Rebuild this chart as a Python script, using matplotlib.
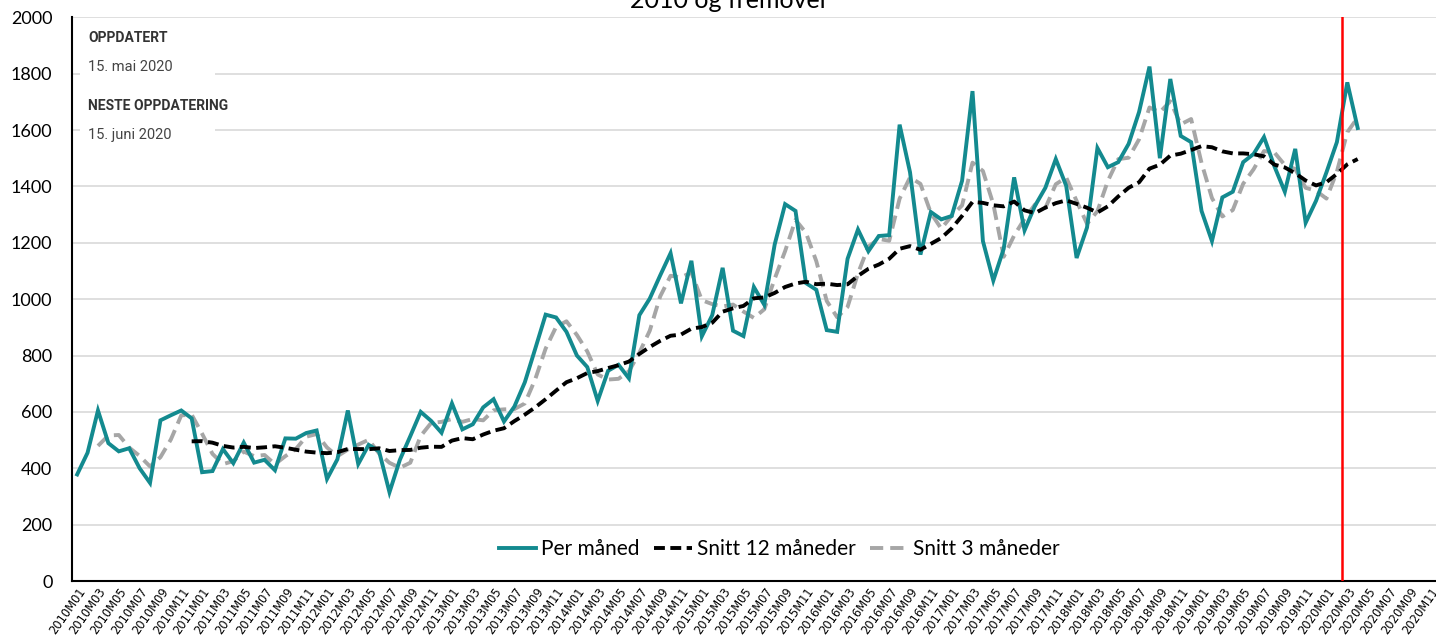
import matplotlib
matplotlib.use("Agg")
import matplotlib.pyplot as plt
import pandas as pd
import numpy as np

# ---- data -------------------------------------------------------------
years = list(range(2010, 2021))
months = [f"{y}M{m:02d}" for y in years for m in range(1, 13)]  # 2010M01 .. 2020M12

per_maned = [
    378, 455, 605, 489, 460, 471, 400, 348, 570, 588, 605, 577,      # 2010
    386, 390, 468, 418, 491, 420, 430, 393, 506, 505, 525, 534,      # 2011
    362, 432, 605, 415, 483, 460, 315, 430, 514, 600, 568, 526,      # 2012
    630, 538, 556, 616, 645, 566, 619, 705, 824, 945, 935, 884,      # 2013
    800, 759, 639, 746, 767, 719, 943, 1002, 1084, 1163, 985, 1136,  # 2014
    868, 943, 1111, 888, 869, 1043, 980, 1194, 1337, 1313, 1057, 1033,  # 2015
    890, 884, 1143, 1247, 1170, 1224, 1227, 1619, 1450, 1158, 1309, 1283,  # 2016
    1295, 1420, 1738, 1206, 1066, 1179, 1432, 1244, 1331, 1395, 1497, 1402,  # 2017
    1146, 1254, 1536, 1468, 1486, 1551, 1664, 1825, 1500, 1781, 1579, 1557,  # 2018
    1313, 1206, 1361, 1381, 1486, 1515, 1575, 1471, 1381, 1533, 1271, 1349,  # 2019
    1450, 1557, 1769, 1607,                                          # 2020
]
tick_labels = months[::2]
title = "2010 og fremover"
series_names = ["Per måned", "Snitt 12 måneder", "Snitt 3 måneder"]
marker_month = "2020M03"

# ---- derived -----------------------------------------------------------
s = pd.Series(per_maned, dtype=float)
snitt12 = s.rolling(12).mean()
snitt3 = s.rolling(3).mean()
x = np.arange(len(per_maned))

# ---- figure -------------------------------------------------------------
plt.rcParams['font.family'] = ['Lato', 'DejaVu Sans']
fig = plt.figure(figsize=(14.36, 6.37), dpi=100)
ax = fig.add_axes([0.0501, 0.0879, 0.957, 0.885])

teal = '#138a8f'
ax.plot(x, s, color=teal, lw=2.8, label=series_names[0], zorder=3, solid_joinstyle='miter')
ax.plot(x, snitt12, color='black', lw=2.8, ls=(0, (2.8, 1.4)), label=series_names[1], zorder=4)
ax.plot(x, snitt3, color='#a6a6a6', lw=2.8, ls=(0, (3.4, 1.8)), label=series_names[2], zorder=2)

ax.axvline(months.index(marker_month) - 0.5, color='#ff0000', lw=1.8, zorder=5)

ax.set_xlim(-0.5, len(months) - 0.5)
ax.set_ylim(0, 2000)
ax.set_yticks(np.arange(0, 2001, 200))
ax.tick_params(axis='y', labelsize=13, length=0, pad=14)
ax.set_xticks(np.arange(0, len(months), 2))
ax.set_xticklabels(tick_labels, rotation=55, ha='right', rotation_mode='anchor', fontsize=8.3,
                   family=['DejaVu Sans'])
ax.tick_params(axis='x', length=0, pad=3)

ax.grid(axis='y', color='#d9d9d9', lw=1.2)
ax.set_axisbelow(True)
for sp in ['top', 'right']:
    ax.spines[sp].set_visible(False)
ax.spines['left'].set_linewidth(1.5)
ax.spines['bottom'].set_linewidth(1.5)

leg = ax.legend(loc='center', bbox_to_anchor=(0.5146, 0.057), ncol=3, frameon=False,
                fontsize=15, handlelength=1.8, columnspacing=0.7, handletextpad=0.25)

# info box
box_x0, box_x1 = 80, 215
fig.patches.append(plt.Rectangle((box_x0 / 1436, 1 - 150 / 637), (box_x1 - box_x0) / 1436,
                                 (150 - 20) / 637, transform=fig.transFigure,
                                 facecolor='white', edgecolor='none', zorder=1))
nfam = ['Roboto', 'DejaVu Sans']
fig.text(88 / 1436, 1 - 38 / 637, "OPPDATERT", fontsize=10, fontweight='bold',
         color='#333333', va='center', family=nfam, zorder=6)
fig.text(88 / 1436, 1 - 67 / 637, "15. mai 2020", fontsize=10.5,
         color='#444444', va='center', family=nfam, zorder=6)
fig.text(88 / 1436, 1 - 106 / 637, "NESTE OPPDATERING", fontsize=10, fontweight='bold',
         color='#333333', va='center', family=nfam, zorder=6)
fig.text(88 / 1436, 1 - 135 / 637, "15. juni 2020", fontsize=10.5,
         color='#444444', va='center', family=nfam, zorder=6)

fig.text(0.508, 1.0, title, fontsize=18, ha='center', va='center', color='black')

fig.savefig('out.png', dpi=100)
